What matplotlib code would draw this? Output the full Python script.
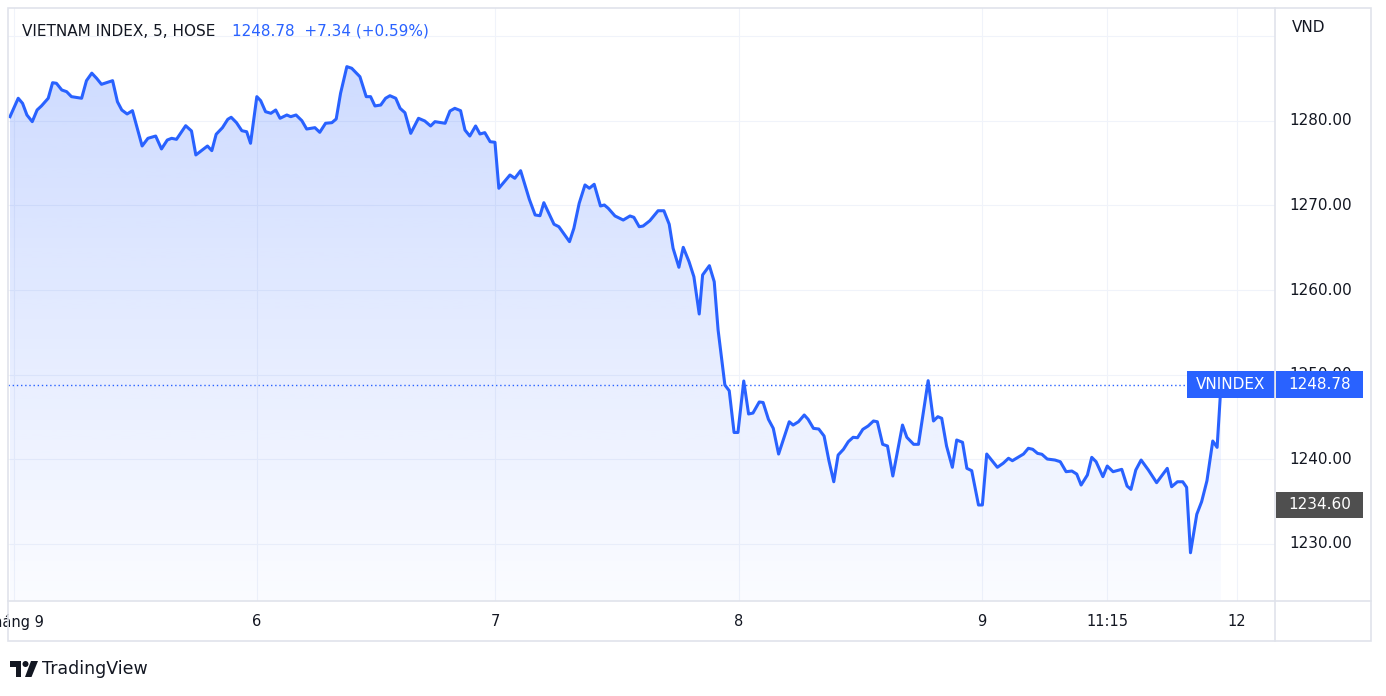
import numpy as np
import matplotlib
matplotlib.use("Agg")
import matplotlib.pyplot as plt
from matplotlib.patches import Rectangle, Polygon, Circle
from matplotlib.transforms import blended_transform_factory as blend

# 5-minute bars (position in bars since the first bar of 5 Sep) and closes
bar_pos = [
    0.0, 1.7, 2.6, 3.5, 4.6, 5.6, 6.5, 7.9, 8.8, 9.6,
    10.7, 11.7, 12.7, 14.8, 15.8, 16.9, 17.9, 18.9, 21.2, 22.2,
    23.1, 24.2, 25.3, 27.3, 28.5, 30.1, 31.3, 32.5, 33.4, 34.4,
    36.3, 37.5, 38.4, 40.8, 41.7, 42.6, 43.9, 45.0, 45.7, 46.8,
    47.9, 48.9, 49.7, 51.0, 51.8, 52.8, 53.9, 54.9, 55.8, 57.2,
    58.0, 59.1, 60.3, 61.3, 63.0, 64.0, 65.2, 66.5, 67.4, 68.3,
    69.6, 70.6, 72.3, 73.6, 74.5, 75.4, 76.6, 77.6, 78.5, 79.7,
    80.6, 81.6, 82.8, 84.4, 85.7, 86.9, 87.8, 89.9, 90.9, 91.9,
    93.1, 94.0, 95.0, 96.2, 97.1, 98.1, 99.2, 100.2, 101.0, 103.3,
    104.3, 105.5, 107.3, 108.5, 109.5, 110.3, 112.4, 113.4, 115.6, 116.5,
    117.6, 118.8, 119.7, 120.7, 122.0, 122.8, 123.6, 125.0, 126.7, 128.1,
    128.9, 130.0, 130.8, 132.2, 133.9, 135.1, 136.2, 137.0, 138.2, 139.1,
    140.3, 141.3, 142.4, 143.1, 144.5, 145.5, 146.3, 147.7, 148.6, 149.6,
    150.4, 151.6, 152.6, 153.5, 154.8, 155.6, 156.7, 157.7, 158.8, 161.0,
    161.8, 162.9, 164.1, 164.9, 166.0, 167.1, 168.2, 169.2, 170.2, 171.1,
    172.2, 173.2, 174.2, 175.1, 176.2, 177.3, 178.4, 179.2, 180.3, 181.3,
    182.4, 184.4, 185.3, 186.7, 187.7, 189.7, 190.8, 191.7, 192.5, 193.5,
    194.7, 195.6, 196.8, 197.7, 198.7, 200.1, 200.9, 201.8, 204.0, 205.2,
    206.3, 207.1, 209.4, 210.4, 211.3, 212.3, 213.2, 214.3, 215.9, 217.0,
    218.2, 219.4, 220.4, 221.3, 222.6, 223.5, 224.4, 225.8, 226.7, 227.9,
    229.7, 230.8, 231.6, 232.6, 233.7, 235.2, 236.9, 239.1, 240.0, 241.2,
    242.3, 243.1, 243.9, 245.2, 246.2, 247.3, 248.5, 249.4, 250.2,
]
close = [
    1280.51, 1282.69, 1282.09, 1280.71, 1279.92, 1281.30, 1281.78, 1282.69, 1284.53, 1284.46,
    1283.67, 1283.47, 1282.88, 1282.69, 1284.77, 1285.66, 1285.05, 1284.34, 1284.77, 1282.28,
    1281.30, 1280.83, 1281.22, 1277.04, 1277.95, 1278.22, 1276.69, 1277.75, 1277.95, 1277.83,
    1279.44, 1278.82, 1275.98, 1277.04, 1276.49, 1278.43, 1279.21, 1280.20, 1280.44, 1279.80,
    1278.85, 1278.73, 1277.36, 1282.88, 1282.40, 1281.10, 1280.91, 1281.30, 1280.32, 1280.71,
    1280.51, 1280.71, 1280.04, 1279.05, 1279.21, 1278.66, 1279.73, 1279.80, 1280.24, 1283.28,
    1286.43, 1286.24, 1285.24, 1282.88, 1282.88, 1281.78, 1281.89, 1282.69, 1282.99, 1282.69,
    1281.50, 1280.98, 1278.54, 1280.32, 1280.00, 1279.41, 1279.92, 1279.73, 1281.18, 1281.50,
    1281.22, 1278.93, 1278.22, 1279.41, 1278.46, 1278.62, 1277.55, 1277.48, 1272.04, 1273.61,
    1273.22, 1274.12, 1270.73, 1268.88, 1268.79, 1270.33, 1267.78, 1267.49, 1265.72, 1267.30,
    1270.26, 1272.43, 1272.04, 1272.51, 1269.94, 1270.06, 1269.67, 1268.76, 1268.28, 1268.76,
    1268.60, 1267.49, 1267.57, 1268.20, 1269.38, 1269.38, 1267.78, 1264.94, 1262.69, 1265.05,
    1263.35, 1261.57, 1257.16, 1261.78, 1262.88, 1260.98, 1255.27, 1248.76, 1248.08, 1243.14,
    1243.14, 1249.23, 1245.33, 1245.44, 1246.75, 1246.69, 1244.70, 1243.63, 1240.59, 1244.41,
    1244.02, 1244.41, 1245.21, 1244.70, 1243.63, 1243.55, 1242.72, 1239.80, 1237.31, 1240.47,
    1241.15, 1242.05, 1242.57, 1242.52, 1243.51, 1243.91, 1244.50, 1244.41, 1241.74, 1241.54,
    1237.99, 1244.02, 1242.57, 1241.74, 1241.74, 1249.27, 1244.50, 1245.01, 1244.82, 1241.54,
    1239.02, 1242.25, 1241.98, 1238.90, 1238.62, 1234.56, 1234.56, 1240.59, 1239.02, 1239.50,
    1240.09, 1239.80, 1240.59, 1241.27, 1241.15, 1240.67, 1240.56, 1240.00, 1239.88, 1239.68,
    1238.50, 1238.58, 1238.22, 1236.92, 1238.11, 1240.20, 1239.68, 1237.91, 1239.17, 1238.50,
    1238.78, 1236.80, 1236.41, 1238.70, 1239.88, 1238.70, 1237.20, 1238.90, 1236.72, 1237.31,
    1237.31, 1236.65, 1228.91, 1233.46, 1234.95, 1237.43, 1242.13, 1241.38, 1248.78,
]

time_ticks = [0.8, 51.0, 100.2, 150.6, 200.8, 226.7, 253.5]
time_labels = ["Tháng 9", "6", "7", "8", "9", "11:15", "12"]
price_labels = [1230, 1240, 1250, 1260, 1270, 1280]
price_grid = [1230, 1240, 1250, 1260, 1270, 1280, 1290]

title = "VIETNAM INDEX, 5, HOSE"
symbol = "VNINDEX"
last_price = 1248.78
change = 7.34
change_pct = 0.59
marker_price = 1234.60

BLUE = "#2962FF"
TEXT = "#131722"
GRID = "#f0f3fa"
BORDER = "#e0e3eb"

W, H = 1386, 696
fig = plt.figure(figsize=(W / 100, H / 100), dpi=100)
fig.patch.set_facecolor("white")


def px_axes(x0, y0, x1, y1):
    # rectangle given in pixels from the top-left corner
    return fig.add_axes([x0 / W, 1 - y1 / H, (x1 - x0) / W, (y1 - y0) / H])


xlim = (-0.41, 261.36)
ylim = (1223.20, 1293.37)

ax = px_axes(8, 8, 1275, 601)
ax.set_xlim(xlim)
ax.set_ylim(ylim)
for s in ax.spines.values():
    s.set_visible(False)
ax.set_xticks(time_ticks)
ax.set_yticks(price_grid)
ax.tick_params(length=0, labelbottom=False, labelleft=False)
ax.grid(True, color=GRID, linewidth=0.8)
ax.set_axisbelow(True)

# gradient area under the line
n = 256
rgba = np.zeros((n, 1, 4))
rgba[..., 0] = 41 / 255
rgba[..., 1] = 98 / 255
rgba[..., 2] = 1.0
rgba[:, 0, 3] = np.linspace(0.25, 0.02, n)
im = ax.imshow(rgba, extent=[xlim[0], xlim[1], ylim[0], ylim[1]], origin="upper",
               aspect="auto", zorder=1, interpolation="bilinear")
verts = list(zip(bar_pos, close)) + [(bar_pos[-1], ylim[0]), (bar_pos[0], ylim[0])]
area = Polygon(verts, closed=True, facecolor="none", edgecolor="none")
ax.add_patch(area)
im.set_clip_path(area)
ax.set_xlim(xlim)
ax.set_ylim(ylim)

ax.plot(bar_pos, close, color=BLUE, linewidth=2.2, solid_joinstyle="round", zorder=3)

# last price dotted line and symbol label
ax.axhline(last_price, xmin=0, xmax=0.9305, color=BLUE, linewidth=1.0,
           linestyle=(0, (1, 2)), zorder=2)
tr = blend(ax.transAxes, ax.transData)
ax.add_patch(Rectangle((0.9305, last_price - 1.6), 0.0695, 3.2, transform=tr,
                       facecolor=BLUE, edgecolor="none", zorder=5, clip_on=False))
ax.text(0.965, last_price, symbol, transform=tr, ha="center", va="center",
        color="white", fontsize=11, zorder=6)

# price scale
pax = px_axes(1275, 8, 1371, 601)
pax.set_ylim(ylim)
pax.axis("off")
ptr = blend(pax.transAxes, pax.transData)
for p in price_labels:
    pax.text(0.48, p, f"{p:.2f}", transform=ptr, ha="center", va="center",
             color=TEXT, fontsize=11, zorder=1)
pax.add_patch(Rectangle((0.0104, last_price - 1.6), 0.906, 3.2, transform=ptr,
                        facecolor=BLUE, edgecolor="none", zorder=3))
pax.text(0.47, last_price, f"{last_price:.2f}", transform=ptr, ha="center",
         va="center", color="white", fontsize=11, zorder=4)
pax.add_patch(Rectangle((0.0104, marker_price - 1.55), 0.906, 3.1, transform=ptr,
                        facecolor="#4f4f4f", edgecolor="none", zorder=3))
pax.text(0.47, marker_price, f"{marker_price:.2f}", transform=ptr, ha="center",
         va="center", color="white", fontsize=11, zorder=4)
pax.text(0.177, 1291.1, "VND", transform=ptr, ha="left", va="center",
         color=TEXT, fontsize=11)

# time scale
tax = px_axes(8, 601, 1275, 641)
tax.set_xlim(xlim)
tax.axis("off")
ttr = blend(tax.transData, tax.transAxes)
for pos, lab in zip(time_ticks, time_labels):
    t = tax.text(pos, 0.48, lab, transform=ttr, ha="center", va="center",
                 color=TEXT, fontsize=10.5)
    t.set_clip_box(tax.bbox)

# header
fig.text(22 / W, 1 - 31 / H, title, ha="left", va="center", color=TEXT, fontsize=11)
fig.text(232 / W, 1 - 31 / H,
         f"{last_price:.2f}  +{change:.2f} (+{change_pct:.2f}%)",
         ha="left", va="center", color=BLUE, fontsize=11)

# frame lines and logo
deco = fig.add_axes([0, 0, 1, 1], zorder=10)
deco.set_xlim(0, W)
deco.set_ylim(H, 0)
deco.axis("off")
deco.patch.set_alpha(0)
deco.add_patch(Rectangle((8, 8), 1363, 633, facecolor="none", edgecolor=BORDER, linewidth=1.2))
deco.plot([1275, 1275], [8, 641], color=BORDER, linewidth=1.2)
deco.plot([8, 1371], [601, 601], color=BORDER, linewidth=1.2)

deco.add_patch(Rectangle((10, 661), 11, 5.5, facecolor=TEXT, edgecolor="none"))
deco.add_patch(Rectangle((15.5, 661), 5.5, 16, facecolor=TEXT, edgecolor="none"))
deco.add_patch(Circle((25.5, 664), 3, facecolor=TEXT, edgecolor="none"))
deco.add_patch(Polygon([(31, 661), (38, 661), (31.5, 677), (25, 677)], closed=True,
                       facecolor=TEXT, edgecolor="none"))
deco.text(42, 669, "TradingView", ha="left", va="center", color=TEXT, fontsize=12.5)

fig.savefig("out.png", dpi=100, facecolor="white")
